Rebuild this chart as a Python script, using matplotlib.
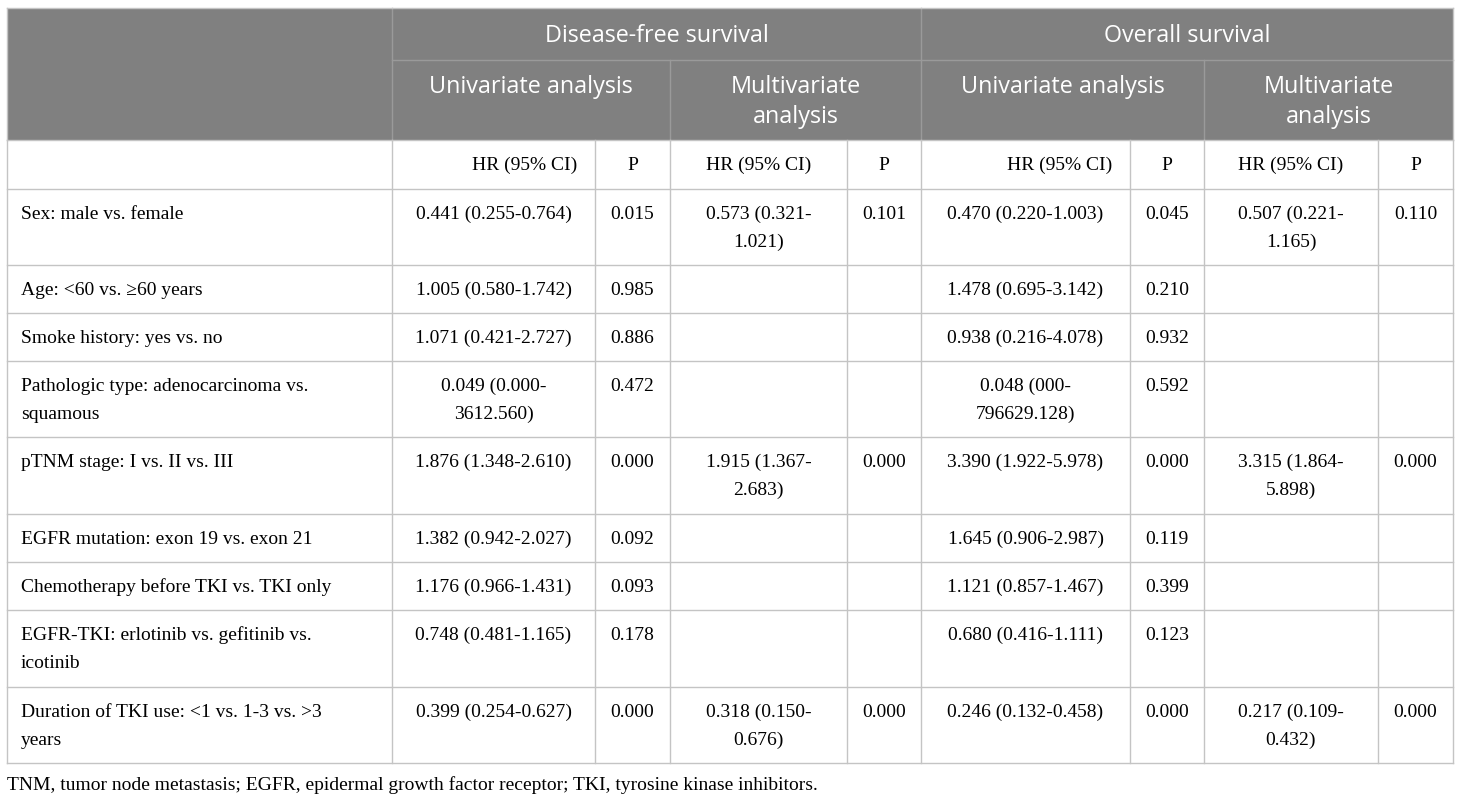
import matplotlib
matplotlib.use('Agg')
import matplotlib.pyplot as plt

# данные таблицы
variables = ['Sex: male vs. female',
             'Age: <60 vs. \u226560 years',
             'Smoke history: yes vs. no',
             'Pathologic type: adenocarcinoma vs.\nsquamous',
             'pTNM stage: I vs. II vs. III',
             'EGFR mutation: exon 19 vs. exon 21',
             'Chemotherapy before TKI vs. TKI only',
             'EGFR-TKI: erlotinib vs. gefitinib vs.\nicotinib',
             'Duration of TKI use: <1 vs. 1-3 vs. >3\nyears']
dfs_uni_hr = ['0.441 (0.255-0.764)', '1.005 (0.580-1.742)', '1.071 (0.421-2.727)',
              '0.049 (0.000-\n3612.560)', '1.876 (1.348-2.610)', '1.382 (0.942-2.027)',
              '1.176 (0.966-1.431)', '0.748 (0.481-1.165)', '0.399 (0.254-0.627)']
dfs_uni_p = ['0.015', '0.985', '0.886', '0.472', '0.000', '0.092', '0.093', '0.178', '0.000']
dfs_multi_hr = ['0.573 (0.321-\n1.021)', '', '', '', '1.915 (1.367-\n2.683)', '', '', '', '0.318 (0.150-\n0.676)']
dfs_multi_p = ['0.101', '', '', '', '0.000', '', '', '', '0.000']
os_uni_hr = ['0.470 (0.220-1.003)', '1.478 (0.695-3.142)', '0.938 (0.216-4.078)',
             '0.048 (000-\n796629.128)', '3.390 (1.922-5.978)', '1.645 (0.906-2.987)',
             '1.121 (0.857-1.467)', '0.680 (0.416-1.111)', '0.246 (0.132-0.458)']
os_uni_p = ['0.045', '0.210', '0.932', '0.592', '0.000', '0.119', '0.399', '0.123', '0.000']
os_multi_hr = ['0.507 (0.221-\n1.165)', '', '', '', '3.315 (1.864-\n5.898)', '', '', '', '0.217 (0.109-\n0.432)']
os_multi_p = ['0.110', '', '', '', '0.000', '', '', '', '0.000']

groups = ['Disease-free survival', 'Overall survival']
analyses = ['Univariate analysis', 'Multivariate\nanalysis', 'Univariate analysis', 'Multivariate\nanalysis']
subheads = ['HR (95% CI)', 'P'] * 4
footnote = 'TNM, tumor node metastasis; EGFR, epidermal growth factor receptor; TKI, tyrosine kinase inhibitors.'

# геометрия в пикселях
col_x = [7, 392, 595, 670, 847, 921, 1130, 1204, 1378, 1453]
row_y = [8, 60, 140, 189, 265, 313, 361, 437, 514, 562, 610, 687, 763]

serif = ['Liberation Serif', 'DejaVu Serif']
sans = ['Open Sans', 'DejaVu Sans']
body_fs = 14
head_fs = 16.8
header_bg = '#808080'
line_c = '#c4c4c4'
head_line_c = '#9a9a9a'

fig = plt.figure(figsize=(14.6, 8), dpi=100)
ax = fig.add_axes([0, 0, 1, 1])
ax.set_xlim(0, 1460)
ax.set_ylim(800, 0)
ax.axis('off')


# каждая строка текста рисуется отдельно, по базовой линии
def put(x, y, s, step=28, **kw):
    for k, line in enumerate(s.split('\n')):
        ax.text(x, y + k * step, line, va='baseline', **kw)


# шапка
ax.add_patch(plt.Rectangle((col_x[0], row_y[0]), col_x[-1] - col_x[0], row_y[2] - row_y[0],
                           facecolor=header_bg, edgecolor='none', zorder=0))
ax.plot([col_x[1], col_x[-1]], [row_y[1], row_y[1]], color=head_line_c, lw=1)
for x in [col_x[1], col_x[5]]:
    ax.plot([x, x], [row_y[0], row_y[2]], color=head_line_c, lw=1)
for x in [col_x[3], col_x[7]]:
    ax.plot([x, x], [row_y[1], row_y[2]], color=head_line_c, lw=1)

for i, g in enumerate(groups):
    xc = (col_x[1 + 4 * i] + col_x[5 + 4 * i]) / 2
    put(xc, row_y[0] + 34, g, family=sans, fontsize=head_fs, color='white', ha='center')
for i, a in enumerate(analyses):
    xc = (col_x[1 + 2 * i] + col_x[3 + 2 * i]) / 2
    put(xc, row_y[1] + 33, a, step=30, family=sans, fontsize=head_fs, color='white', ha='center')

# сетка тела таблицы
for y in row_y[2:]:
    ax.plot([col_x[0], col_x[-1]], [y, y], color=line_c, lw=1)
for x in col_x:
    ax.plot([x, x], [row_y[2], row_y[-1]], color=line_c, lw=1)
ax.plot([col_x[0], col_x[0]], [row_y[0], row_y[2]], color=line_c, lw=1)
ax.plot([col_x[-1], col_x[-1]], [row_y[0], row_y[2]], color=line_c, lw=1)
ax.plot([col_x[0], col_x[-1]], [row_y[0], row_y[0]], color=line_c, lw=1)

# строка HR / P
for j, s in enumerate(subheads):
    x0, x1 = col_x[j + 1], col_x[j + 2]
    if j in (0, 4):
        put(x1 - 18, row_y[2] + 30, s, family=serif, fontsize=body_fs, ha='right')
    else:
        put((x0 + x1) / 2, row_y[2] + 30, s, family=serif, fontsize=body_fs, ha='center')

# данные
columns = [dfs_uni_hr, dfs_uni_p, dfs_multi_hr, dfs_multi_p,
           os_uni_hr, os_uni_p, os_multi_hr, os_multi_p]
for r, name in enumerate(variables):
    yb = row_y[r + 3] + 30
    put(col_x[0] + 14, yb, name, family=serif, fontsize=body_fs, ha='left')
    for j, col in enumerate(columns):
        xc = (col_x[j + 1] + col_x[j + 2]) / 2
        put(xc, yb, col[r], family=serif, fontsize=body_fs, ha='center')

ax.text(col_x[0], 790, footnote, family=serif, fontsize=body_fs, ha='left', va='baseline')

fig.savefig('out.png', dpi=100)
